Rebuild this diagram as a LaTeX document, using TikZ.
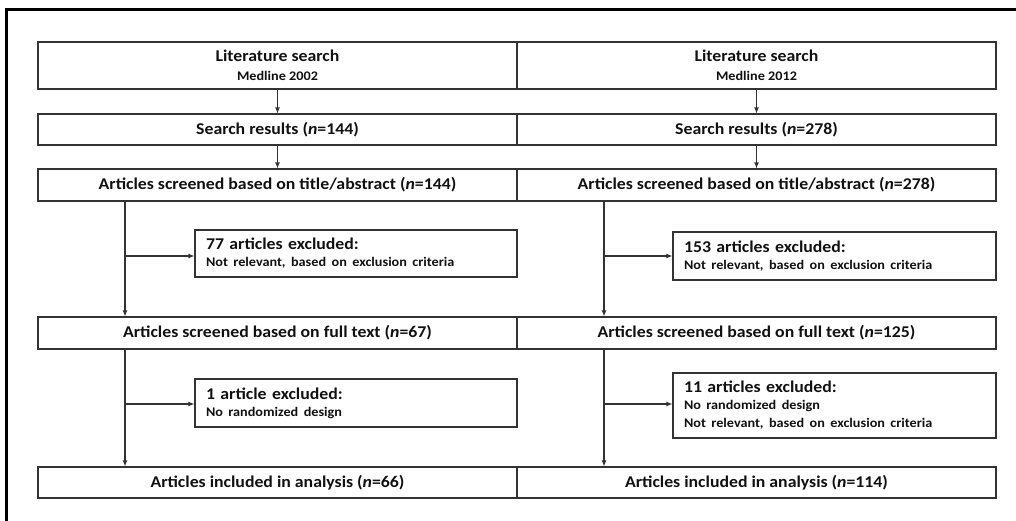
\documentclass[tikz,border=0pt]{standalone}
\usepackage{fontspec}
\setmainfont[FakeStretch=1.08]{Carlito}
\usetikzlibrary{arrows.meta}
\definecolor{ln}{HTML}{333333}
\definecolor{tx}{HTML}{111111}
\tikzset{
  box/.style={draw=ln, line width=1.1pt, inner sep=0pt, font=\bfseries\fontsize{16.5}{20}\selectfont, text=tx, align=center},
  exbox/.style={draw=ln, line width=1.1pt, inner xsep=11bp, inner ysep=0pt, font=\bfseries\fontsize{16.5}{19}\selectfont, text=tx, align=left},
  arr/.style={draw=ln, line width=1.1pt, -{Latex[length=6pt,width=5pt]}},
}
\newcommand{\smalltxt}{\fontsize{13.2}{19}\selectfont}
\begin{document}
\begin{tikzpicture}[x=1bp,y=-1bp]
\useasboundingbox (0,0) rectangle (1016,521);
% frame
\draw[line width=3bp, black] (6,521) -- (6,10) -- (1016,10);
% left column
\node[box, minimum width=479bp, minimum height=47bp] (l1) at (277.5,65.5) {Literature search\\[-1pt]{\smalltxt Medline 2002}};
\node[box, minimum width=479bp, minimum height=31bp] (l2) at (277.5,129.5) {Search results (\textit{n}=144)};
\node[box, minimum width=479bp, minimum height=32bp] (l3) at (277.5,185) {Articles screened based on title/abstract (\textit{n}=144)};
\node[box, minimum width=479bp, minimum height=32bp] (l4) at (277.5,333) {Articles screened based on full text (\textit{n}=67)};
\node[box, minimum width=479bp, minimum height=31bp] (l5) at (277.5,482.5) {Articles included in analysis (\textit{n}=66)};
\node[exbox, minimum width=322bp, minimum height=47bp, text width=300bp] (le1) at (356,253.5) {77 articles excluded:\\[-2pt]{\smalltxt Not relevant, based on exclusion criteria}};
\node[exbox, minimum width=322bp, minimum height=48bp, text width=300bp] (le2) at (356,403) {1 article excluded:\\[-2pt]{\smalltxt No randomized design}};
% right column
\node[box, minimum width=479bp, minimum height=47bp] (r1) at (756.5,65.5) {Literature search\\[-1pt]{\smalltxt Medline 2012}};
\node[box, minimum width=479bp, minimum height=31bp] (r2) at (756.5,129.5) {Search results (\textit{n}=278)};
\node[box, minimum width=479bp, minimum height=32bp] (r3) at (756.5,185) {Articles screened based on title/abstract (\textit{n}=278)};
\node[box, minimum width=479bp, minimum height=32bp] (r4) at (756.5,333) {Articles screened based on full text (\textit{n}=125)};
\node[box, minimum width=479bp, minimum height=31bp] (r5) at (756.5,482.5) {Articles included in analysis (\textit{n}=114)};
\node[exbox, minimum width=323bp, minimum height=48bp, text width=301bp] (re1) at (834.5,256) {153 articles excluded:\\[-2pt]{\smalltxt Not relevant, based on exclusion criteria}};
\node[exbox, minimum width=323bp, minimum height=65bp, text width=301bp] (re2) at (834.5,405.5) {11 articles excluded:\\[-2pt]{\smalltxt No randomized design}\\[-1pt]{\smalltxt Not relevant, based on exclusion criteria}};
% junction coordinates
\coordinate (lj1) at (125,256);
\coordinate (lj2) at (125,404);
\coordinate (rj1) at (604,256);
\coordinate (rj2) at (604,404);
% arrows
\draw[arr] (l1) -- (l2);
\draw[arr] (l2) -- (l3);
\draw[arr] (r1) -- (r2);
\draw[arr] (r2) -- (r3);
\draw[arr] (l3.south -| lj1) -- (l4.north -| lj1);
\draw[arr] (l4.south -| lj2) -- (l5.north -| lj2);
\draw[arr] (r3.south -| rj1) -- (r4.north -| rj1);
\draw[arr] (r4.south -| rj2) -- (r5.north -| rj2);
\draw[arr] (lj1) -- (lj1 -| le1.west);
\draw[arr] (lj2) -- (lj2 -| le2.west);
\draw[arr] (rj1) -- (rj1 -| re1.west);
\draw[arr] (rj2) -- (rj2 -| re2.west);
\end{tikzpicture}
\end{document}
